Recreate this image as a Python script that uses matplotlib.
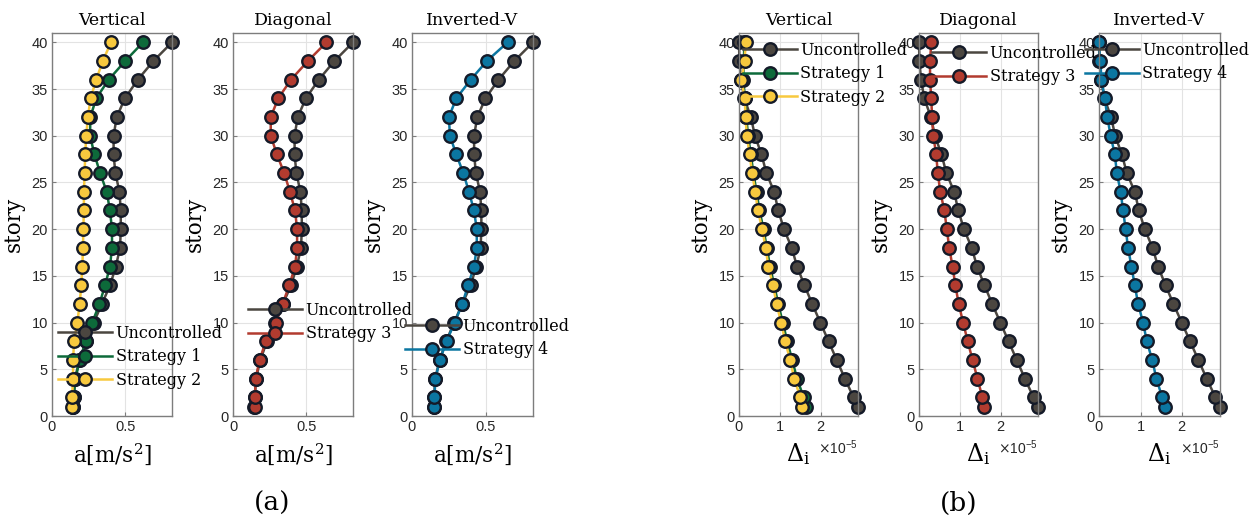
import numpy as np
import matplotlib
matplotlib.use('Agg')
import matplotlib.pyplot as plt
from matplotlib.ticker import ScalarFormatter

plt.rcParams['font.family'] = ['DejaVu Serif']
plt.rcParams['mathtext.fontset'] = 'dejavuserif'

stories = [1, 2, 4, 6, 8, 10, 12, 14, 16, 18, 20, 22, 24, 26, 28, 30, 32, 34, 36, 38, 40]

# peak floor acceleration a [m/s^2]
acc_unc = [0.146, 0.150, 0.157, 0.187, 0.232, 0.285, 0.341, 0.397, 0.436, 0.465, 0.470,
           0.470, 0.461, 0.433, 0.421, 0.421, 0.442, 0.498, 0.586, 0.693, 0.820]
acc_s1 = [0.145, 0.148, 0.160, 0.190, 0.234, 0.275, 0.324, 0.363, 0.396, 0.410, 0.410,
          0.396, 0.374, 0.329, 0.290, 0.260, 0.262, 0.302, 0.387, 0.500, 0.622]
acc_s2 = [0.137, 0.137, 0.144, 0.144, 0.151, 0.173, 0.189, 0.200, 0.207, 0.212, 0.214,
          0.218, 0.218, 0.223, 0.227, 0.234, 0.245, 0.264, 0.302, 0.347, 0.403]
acc_s3 = [0.147, 0.150, 0.154, 0.182, 0.224, 0.293, 0.339, 0.385, 0.424, 0.438, 0.438,
          0.424, 0.389, 0.350, 0.300, 0.258, 0.258, 0.309, 0.396, 0.512, 0.638]
acc_s4 = [0.148, 0.152, 0.159, 0.189, 0.234, 0.289, 0.341, 0.380, 0.420, 0.439, 0.439,
          0.420, 0.386, 0.348, 0.300, 0.257, 0.250, 0.300, 0.398, 0.507, 0.648]

# inter-story drift Delta_i, in units of 1e-5
drift_unc = [2.91, 2.80, 2.59, 2.39, 2.19, 1.99, 1.79, 1.60, 1.42, 1.29, 1.10,
             0.96, 0.86, 0.67, 0.55, 0.39, 0.29, 0.13, 0.05, 0.01, 0.00]
drift_s1 = [1.63, 1.58, 1.42, 1.30, 1.18, 1.07, 0.96, 0.86, 0.76, 0.68, 0.60,
            0.50, 0.43, 0.35, 0.29, 0.22, 0.18, 0.15, 0.10, 0.12, 0.13]
drift_s2 = [1.55, 1.50, 1.35, 1.25, 1.13, 1.03, 0.92, 0.83, 0.72, 0.65, 0.57,
            0.46, 0.40, 0.32, 0.26, 0.19, 0.16, 0.14, 0.06, 0.14, 0.16]
drift_s3 = [1.59, 1.55, 1.43, 1.31, 1.19, 1.08, 0.97, 0.89, 0.82, 0.74, 0.68,
            0.62, 0.52, 0.46, 0.42, 0.35, 0.32, 0.30, 0.27, 0.27, 0.30]
drift_s4 = [1.58, 1.52, 1.38, 1.28, 1.15, 1.06, 0.94, 0.86, 0.78, 0.70, 0.64,
            0.58, 0.52, 0.43, 0.38, 0.28, 0.20, 0.14, 0.06, 0.03, 0.00]
drift_scale = 1e-5

titles = ['Vertical', 'Diagonal', 'Inverted-V']
labels_vertical = ['Uncontrolled', 'Strategy 1', 'Strategy 2']
labels_diagonal = ['Uncontrolled', 'Strategy 3']
labels_inverted = ['Uncontrolled', 'Strategy 4']
acc_ticklabels = ['0', '0.5']

c_unc = '#4b4640'
c_s1 = '#0d6a3a'
c_s2 = '#f8c93e'
c_s3 = '#b23b2f'
c_s4 = '#0b76a1'
edge = '#141a28'

W, H = 1260, 525
fig = plt.figure(figsize=(12.6, 5.25), dpi=100)


def px_box(left, width):
    return [left / W, 1 - 416 / H, width / W, 383 / H]


def draw_panel(left, width, title, series, xmax, xticks, xlabel, leg_xy, drift=False):
    ax = fig.add_axes(px_box(left, width))
    lines = []
    for x, col, lab in series:
        ln, = ax.plot(x, stories, '-o', color=col, lw=1.8, ms=9, mfc=col,
                      mec=edge, mew=1.7, label=lab, clip_on=False)
        lines.append(ln)
    ax.set_xlim(0, xmax)
    ax.set_ylim(0, 41)
    ax.set_xticks(xticks)
    ax.set_yticks(range(0, 41, 5))
    ax.grid(True, color='#e3e3e3', lw=0.8)
    ax.set_axisbelow(True)
    for s in ax.spines.values():
        s.set_color('#7d7d7d')
        s.set_linewidth(1.0)
    ax.tick_params(direction='in', length=3, width=0.8, color='#7d7d7d',
                   labelsize=10.5, labelcolor='#262626', pad=3)
    if drift:
        fmt = ScalarFormatter(useMathText=True)
        fmt.set_powerlimits((0, 0))
        ax.xaxis.set_major_formatter(fmt)
        ax.xaxis.offsetText.set_family('Liberation Sans')
        ax.xaxis.offsetText.set_fontsize(10)
        ax.xaxis.offsetText.set_color('#262626')
    else:
        ax.set_xticklabels(acc_ticklabels)
    for t in ax.get_xticklabels() + ax.get_yticklabels():
        t.set_family('Liberation Sans')
    ax.set_title(title, fontsize=12.5, pad=6)
    ax.set_ylabel('story', fontsize=15.5)
    ax.yaxis.set_label_coords(-0.225, 0.5)
    ax.set_xlabel(xlabel, fontsize=15.5 if not drift else 17)
    ax.xaxis.set_label_coords(0.5, -0.065)
    fig.legend(handles=lines, loc='upper left',
               bbox_to_anchor=(leg_xy[0] / W, 1 - leg_xy[1] / H),
               frameon=False, fontsize=11.5, handlelength=3.4, handletextpad=0.2,
               labelspacing=0.4, borderpad=0, borderaxespad=0, numpoints=1)
    return ax


acc_max = max(acc_unc)
drift_unc_s = np.array(drift_unc) * drift_scale
drift_max = drift_unc_s.max()

draw_panel(52, 120, titles[0],
           [(acc_unc, c_unc, labels_vertical[0]), (acc_s1, c_s1, labels_vertical[1]),
            (acc_s2, c_s2, labels_vertical[2])],
           acc_max, [0, 0.5], 'a[m/s$^2$]', (58, 325))
draw_panel(233, 120, titles[1],
           [(acc_unc, c_unc, labels_diagonal[0]), (acc_s3, c_s3, labels_diagonal[1])],
           acc_max, [0, 0.5], 'a[m/s$^2$]', (248, 302))
draw_panel(412, 121, titles[2],
           [(acc_unc, c_unc, labels_inverted[0]), (acc_s4, c_s4, labels_inverted[1])],
           acc_max, [0, 0.5], 'a[m/s$^2$]', (405, 318))

dticks = [0, 1 * drift_scale, 2 * drift_scale]
draw_panel(739, 119, titles[0],
           [(drift_unc_s, c_unc, labels_vertical[0]),
            (np.array(drift_s1) * drift_scale, c_s1, labels_vertical[1]),
            (np.array(drift_s2) * drift_scale, c_s2, labels_vertical[2])],
           drift_max, dticks, r'$\Delta_\mathrm{i}$', (743, 42), drift=True)
draw_panel(919, 119, titles[1],
           [(drift_unc_s, c_unc, labels_diagonal[0]),
            (np.array(drift_s3) * drift_scale, c_s3, labels_diagonal[1])],
           drift_max, dticks, r'$\Delta_\mathrm{i}$', (932, 45), drift=True)
draw_panel(1099, 121, titles[2],
           [(drift_unc_s, c_unc, labels_inverted[0]),
            (np.array(drift_s4) * drift_scale, c_s4, labels_inverted[1])],
           drift_max, dticks, r'$\Delta_\mathrm{i}$', (1085, 42), drift=True)

fig.text(272 / W, 1 - 503 / H, '(a)', ha='center', va='center', fontsize=19)
fig.text(959 / W, 1 - 503 / H, '(b)', ha='center', va='center', fontsize=19)

fig.savefig('out.png', dpi=100)
